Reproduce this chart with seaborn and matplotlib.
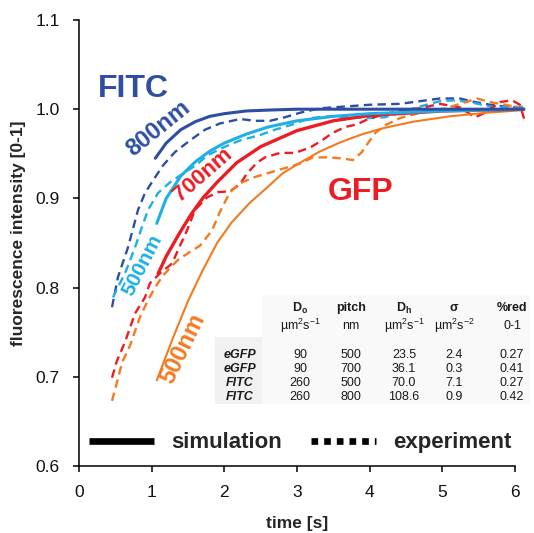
import matplotlib
matplotlib.use("Agg")
import matplotlib.pyplot as plt
from matplotlib.lines import Line2D
from matplotlib.patches import Rectangle
import seaborn as sns

# ---- simulated recovery curves ----
t_fitc800_sim = [1.05, 1.2, 1.4, 1.6, 1.8, 2.0, 2.3, 2.6, 3.0, 4.0, 5.0, 6.12]
y_fitc800_sim = [0.945, 0.962, 0.977, 0.986, 0.992, 0.995, 0.998, 0.999, 1.0, 1.0, 1.0, 1.0]

t_fitc500_sim = [1.07, 1.2, 1.4, 1.6, 1.8, 2.0, 2.3, 2.6, 3.0, 3.5, 4.0, 5.0, 6.12]
y_fitc500_sim = [0.872, 0.900, 0.925, 0.941, 0.953, 0.962, 0.972, 0.980, 0.987, 0.992, 0.995, 0.998, 1.0]

t_gfp700_sim = [1.09, 1.2, 1.39, 1.55, 1.71, 1.9, 2.17, 2.5, 3.0, 3.5, 4.0, 5.0, 6.12]
y_gfp700_sim = [0.816, 0.835, 0.862, 0.883, 0.901, 0.918, 0.940, 0.958, 0.976, 0.987, 0.993, 0.998, 1.0]

t_gfp500_sim = [1.07, 1.3, 1.5, 1.7, 1.9, 2.1, 2.35, 2.6, 2.8, 3.0, 3.3, 3.6, 3.9, 4.2, 4.6, 5.1, 5.6, 6.12]
y_gfp500_sim = [0.696, 0.745, 0.785, 0.819, 0.850, 0.873, 0.895, 0.913, 0.928, 0.938, 0.952, 0.963,
                0.972, 0.979, 0.986, 0.992, 0.996, 0.999]

# ---- measured recovery curves ----
t_fitc800_exp = [0.454, 0.537, 0.674, 0.812, 0.908, 1.018, 1.156, 1.321, 1.527, 1.734, 1.940, 2.216,
                 2.422, 2.628, 2.835, 3.041, 3.316, 3.660, 4.004, 4.417, 4.692, 4.968, 5.243, 5.449,
                 5.656, 5.862, 6.110]
y_fitc800_exp = [0.778, 0.812, 0.845, 0.887, 0.906, 0.920, 0.937, 0.952, 0.965, 0.977, 0.984, 0.989,
                 0.987, 0.987, 0.991, 0.996, 1.001, 1.003, 1.005, 1.006, 1.009, 1.012, 1.012, 1.008,
                 1.005, 1.003, 1.002]

t_fitc500_exp = [0.468, 0.564, 0.633, 0.771, 0.867, 0.950, 1.087, 1.252, 1.431, 1.610, 1.761, 1.982,
                 2.216, 2.491, 2.697, 2.903, 3.179, 3.454, 3.729, 4.004, 4.211, 4.417, 4.692, 4.968,
                 5.174, 5.380, 5.656, 5.931, 6.110]
y_fitc500_exp = [0.789, 0.805, 0.816, 0.845, 0.868, 0.887, 0.906, 0.918, 0.928, 0.937, 0.948, 0.957,
                 0.965, 0.971, 0.977, 0.982, 0.990, 0.992, 0.991, 0.990, 0.991, 0.996, 1.003, 1.009,
                 1.010, 1.008, 1.003, 1.002, 1.003]

t_gfp700_exp = [0.454, 0.523, 0.633, 0.771, 0.908, 0.977, 1.115, 1.280, 1.390, 1.486, 1.596, 1.761,
                1.913, 2.078, 2.216, 2.312, 2.449, 2.559, 2.766, 2.972, 3.179, 3.344, 3.481, 3.660,
                3.825, 4.004, 4.211, 4.417, 4.692, 4.968, 5.243, 5.449, 5.587, 5.793, 5.958, 6.068,
                6.137]
y_gfp700_exp = [0.699, 0.718, 0.739, 0.771, 0.789, 0.805, 0.816, 0.827, 0.847, 0.864, 0.887, 0.901,
                0.907, 0.908, 0.916, 0.928, 0.940, 0.946, 0.951, 0.951, 0.957, 0.965, 0.973, 0.980,
                0.983, 0.990, 0.994, 0.999, 1.001, 1.006, 1.002, 0.991, 0.996, 1.008, 1.010, 1.005,
                0.986]

t_gfp500_exp = [0.454, 0.537, 0.592, 0.702, 0.839, 0.950, 1.046, 1.142, 1.252, 1.362, 1.527, 1.665,
                1.830, 1.940, 2.078, 2.216, 2.422, 2.628, 2.835, 3.041, 3.220, 3.413, 3.592, 3.770,
                3.894, 3.977, 4.073, 4.211, 4.417, 4.692, 4.968, 5.243, 5.477, 5.656, 5.862, 6.110]
y_gfp500_exp = [0.673, 0.698, 0.716, 0.735, 0.767, 0.786, 0.800, 0.812, 0.822, 0.831, 0.840, 0.847,
                0.864, 0.885, 0.907, 0.917, 0.924, 0.929, 0.934, 0.939, 0.946, 0.946, 0.945, 0.943,
                0.952, 0.962, 0.973, 0.982, 0.990, 0.996, 0.999, 1.006, 1.012, 1.008, 1.005, 1.001]

# ---- parameter table ----
table_rows = ["eGFP", "eGFP", "FITC", "FITC"]
table_d0 = [90, 90, 260, 260]
table_pitch = [500, 700, 500, 800]
table_dh = [23.5, 36.1, 70.0, 108.6]
table_sigma = [2.4, 0.3, 7.1, 0.9]
table_red = [0.27, 0.41, 0.27, 0.42]
table_heads = [r"$\mathbf{D_o}$", "pitch", r"$\mathbf{D_h}$", "σ", "%red"]
table_units = [r"µm$^2$s$^{-1}$", "nm", r"µm$^2$s$^{-1}$", r"µm$^2$s$^{-2}$", "0-1"]

x_ticks = [0, 1, 2, 3, 4, 5, 6]
y_ticks = [0.6, 0.7, 0.8, 0.9, 1.0, 1.1]

DARK_BLUE = "#2D4EA3"
LIGHT_BLUE = "#1DAFE5"
RED = "#EC1C24"
ORANGE = "#F47A20"

sns.set_theme(style="ticks")
plt.rcParams["font.family"] = ["Liberation Sans", "DejaVu Sans"]
plt.rcParams["mathtext.fontset"] = "custom"
plt.rcParams["mathtext.rm"] = "Liberation Sans"
plt.rcParams["mathtext.it"] = "Liberation Sans:italic"
plt.rcParams["mathtext.bf"] = "Liberation Sans:bold"

W, H = 534, 533
fig = plt.figure(figsize=(W / 100, H / 100), dpi=100)
AX_L, AX_R, AX_T, AX_B = 79, 515, 20, 466
ax = fig.add_axes([AX_L / W, 1 - AX_B / H, (AX_R - AX_L) / W, (AX_B - AX_T) / H])


def axfrac(px, py):
    return (px - AX_L) / (AX_R - AX_L), (AX_B - py) / (AX_B - AX_T)


def draw(t, y, color, lw, ls):
    sns.lineplot(x=t, y=y, ax=ax, color=color, lw=lw, linestyle=ls, sort=False,
                 estimator=None, clip_on=False)


dash = (0, (3.6, 2.2))
draw(t_fitc800_exp, y_fitc800_exp, DARK_BLUE, 1.7, dash)
draw(t_fitc500_exp, y_fitc500_exp, LIGHT_BLUE, 1.7, dash)
draw(t_gfp700_exp, y_gfp700_exp, RED, 1.7, dash)
draw(t_gfp500_exp, y_gfp500_exp, ORANGE, 1.7, dash)

draw(t_gfp500_sim, y_gfp500_sim, ORANGE, 1.5, "-")
draw(t_gfp700_sim, y_gfp700_sim, RED, 2.4, "-")
draw(t_fitc500_sim, y_fitc500_sim, LIGHT_BLUE, 2.2, "-")
draw(t_fitc800_sim, y_fitc800_sim, DARK_BLUE, 2.2, "-")

ax.set_xlim(0, 6)
ax.set_ylim(0.6, 1.1)
ax.set_xticks(x_ticks)
ax.set_xticklabels([str(v) for v in x_ticks])
ax.set_yticks(y_ticks)
ax.set_yticklabels([f"{v:.1f}" for v in y_ticks])
sns.despine(ax=ax)
for side in ("left", "bottom"):
    ax.spines[side].set_linewidth(1.1)
    ax.spines[side].set_color("black")
ax.tick_params(axis="both", direction="out", length=4, width=1.1, color="black",
               labelsize=12.5, labelcolor="#111111", pad=10)

ax.set_xlabel("time [s]", fontsize=12.5, fontweight="bold")
ax.xaxis.set_label_coords(0.5, -0.112)
ax.set_ylabel("fluorescence intensity [0-1]", fontsize=12.5, fontweight="bold")
ax.yaxis.set_label_coords(-0.122, 0.522)

# curve labels
ax.text(0.743, 1.0136, "FITC", color=DARK_BLUE, fontsize=23, fontweight="bold",
        ha="center", va="baseline")
ax.text(3.874, 0.898, "GFP", color=RED, fontsize=23, fontweight="bold",
        ha="center", va="baseline")
ax.text(1.085, 0.979, "800nm", color=DARK_BLUE, fontsize=17, fontweight="bold",
        rotation=39, ha="center", va="center", rotation_mode="anchor")
ax.text(1.70, 0.926, "700nm", color=RED, fontsize=16, fontweight="bold",
        rotation=41, ha="center", va="center", rotation_mode="anchor")
ax.text(0.88, 0.825, "500nm", color=LIGHT_BLUE, fontsize=15, fontweight="bold",
        rotation=63, ha="center", va="center", rotation_mode="anchor")
ax.text(1.431, 0.732, "500nm", color=ORANGE, fontsize=17, fontweight="bold",
        rotation=64, ha="center", va="center", rotation_mode="anchor")

# parameter table
x0, y0 = axfrac(262, 404)
x1, y1 = axfrac(530, 295)
ax.add_patch(Rectangle((x0, y0), x1 - x0, y1 - y0, transform=ax.transAxes,
                       facecolor="#F9F9F9", edgecolor="none", zorder=0, clip_on=False))
x0, y0 = axfrac(215, 404)
x1, y1 = axfrac(262, 337)
ax.add_patch(Rectangle((x0, y0), x1 - x0, y1 - y0, transform=ax.transAxes,
                       facecolor="#F1F1F1", edgecolor="none", zorder=0, clip_on=False))

col_x = [300, 351, 404, 454, 512]
row_y = [355, 369, 383, 397]
tfs = 9
for cx, head, unit in zip(col_x, table_heads, table_units):
    ax.text(*axfrac(cx, 308), head, transform=ax.transAxes, ha="center", va="center",
            fontsize=tfs, fontweight="bold", color="#1a1a1a")
    ax.text(*axfrac(cx, 326), unit, transform=ax.transAxes, ha="center", va="center",
            fontsize=tfs, color="#1a1a1a")
for i, ry in enumerate(row_y):
    ax.text(*axfrac(240, ry), table_rows[i], transform=ax.transAxes, ha="center",
            va="center", fontsize=tfs, fontweight="bold", fontstyle="italic", color="#1a1a1a")
    vals = [f"{table_d0[i]}", f"{table_pitch[i]}", f"{table_dh[i]:.1f}",
            f"{table_sigma[i]:.1f}", f"{table_red[i]:.2f}"]
    for cx, v in zip(col_x, vals):
        ax.text(*axfrac(cx, ry), v, transform=ax.transAxes, ha="center", va="center",
                fontsize=tfs, color="#1a1a1a")

# legend for line styles
handles = [
    Line2D([0], [0], color="black", lw=4.8, solid_capstyle="butt"),
    Line2D([0], [0], color="black", lw=4.8, linestyle=(0, (1, 0.9)), dash_capstyle="butt"),
]
ax.legend(handles, ["simulation", "experiment"], ncol=2, frameon=False, loc="center",
          bbox_to_anchor=(0.508, 0.052), prop=dict(weight="bold", size=16),
          handlelength=2.9, handletextpad=0.8, columnspacing=1.3, borderpad=0.2)

fig.savefig("out.png", dpi=100)
